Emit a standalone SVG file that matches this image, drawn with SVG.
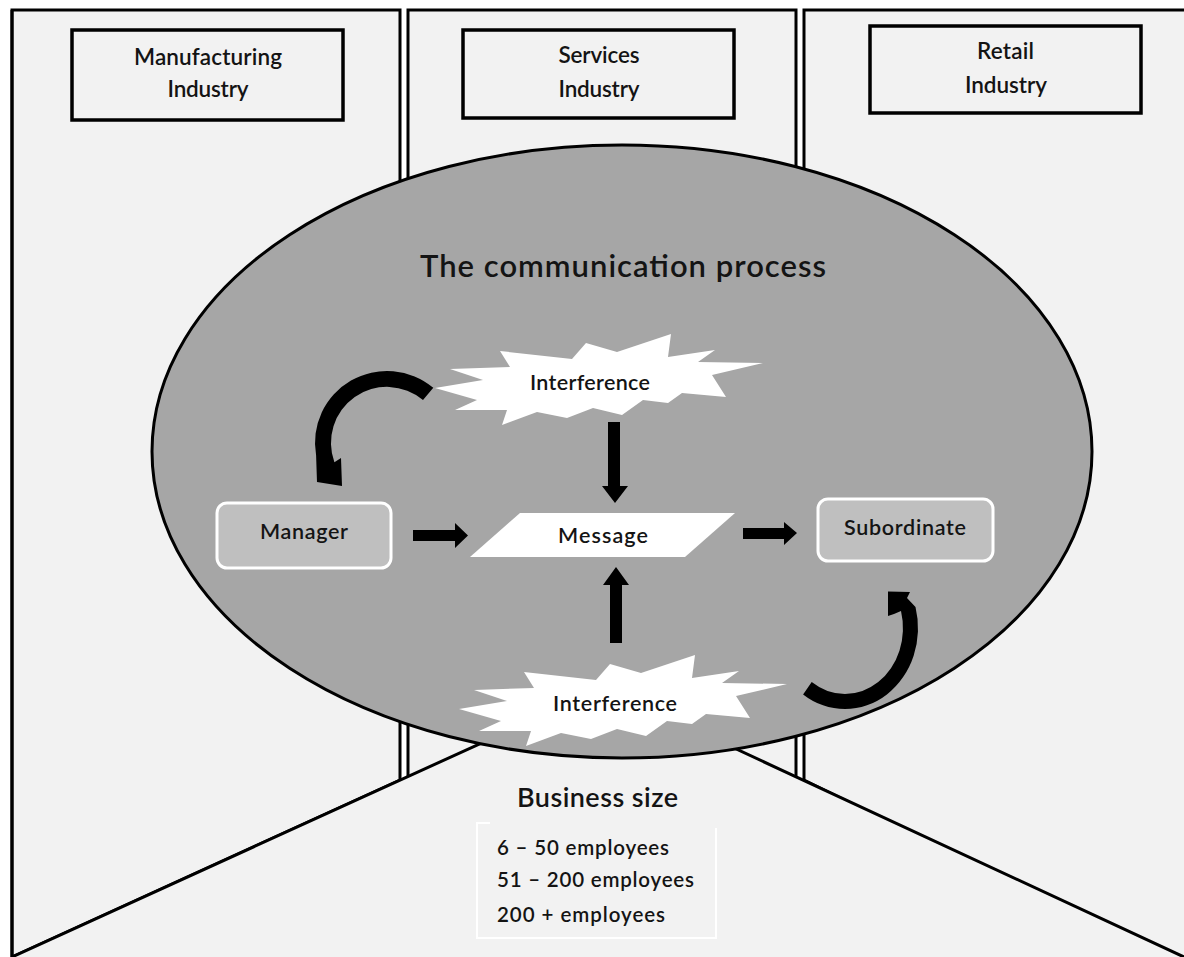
<svg xmlns="http://www.w3.org/2000/svg" width="1184" height="957" viewBox="0 0 1184 957">
<defs>
<style>
.panel{fill:#f2f2f2;stroke:#000;stroke-width:3;stroke-linejoin:miter}
.ibox{fill:#f2f2f2;stroke:#000;stroke-width:3.5}
.edge{fill:none;stroke:#000;stroke-width:3}
.t{font-family:Lato,"Liberation Sans",sans-serif;fill:#141414;text-anchor:middle;font-weight:600}
.ind{font-size:22.5px}
.lbl{font-size:21.5px}
.node{fill:#bfbfbf;stroke:#fff;stroke-width:3}
.burst{fill:#fff;stroke:none}
.arr{fill:#000;stroke:none}
</style>
<polygon id="burstShape" class="burst" points="435,388 483,380 450,369 510,367 500,351 572,359 586,343 617,352 671,334 668,357 715,350 698,362 763,363 712,375 726,397 682,393 668,403 643,400 622,415 593,408 567,418 537,412 502,425 507,410 455,410 477,400"/>
</defs>
<rect x="0" y="0" width="1184" height="957" fill="#fff"/>
<g id="panels">
<polygon id="panel-left" class="panel" points="12,10 400,10 400,780 12,957 12,970"/>
<rect id="panel-middle" class="panel" x="408" y="10" width="388" height="790"/>
<polygon id="panel-right" class="panel" points="804,10 1190,10 1190,970 804,780"/>
<polygon id="floor" fill="#f2f2f2" points="12,957 543,715 663,715 1184,957 1184,970 12,970"/>
<path class="edge" d="M12,957 L543,715 M663,715 L1184,957"/>
<path class="edge" d="M12,10 L12,970"/>
</g>
<g id="manufacturing">
<rect class="ibox" x="72" y="30" width="271" height="90"/>
<text class="t ind" x="208" y="65" textLength="148">Manufacturing</text>
<text class="t ind" x="208" y="97" textLength="81">Industry</text>
</g>
<g id="services">
<rect class="ibox" x="463" y="30" width="271" height="88"/>
<text class="t ind" x="599" y="63" textLength="81">Services</text>
<text class="t ind" x="599" y="97" textLength="81">Industry</text>
</g>
<g id="retail">
<rect class="ibox" x="870" y="26" width="271" height="87"/>
<text class="t ind" x="1005.5" y="59" textLength="57">Retail</text>
<text class="t ind" x="1006" y="93" textLength="82">Industry</text>
</g>
<g id="business-size">
<text class="t" x="597.5" y="807" font-size="27" font-weight="700" textLength="161">Business size</text>
<path d="M490,823 L477,823 L477,938 L716,938 L716,828" fill="none" stroke="#fff" stroke-width="2"/>
<text class="t" x="497" y="855" font-size="20.5" style="text-anchor:start" textLength="172">6 – 50 employees</text>
<text class="t" x="497" y="887" font-size="20.5" style="text-anchor:start" textLength="197">51 – 200 employees</text>
<text class="t" x="497" y="922" font-size="20.5" style="text-anchor:start" textLength="168">200 + employees</text>
</g>
<g id="communication-process">
<ellipse cx="622" cy="451.5" rx="470" ry="306.5" fill="#a6a6a6" stroke="#000" stroke-width="3"/>
<text class="t" x="623" y="277" font-size="31" font-weight="700" textLength="406">The communication process</text>
</g>
<g id="interference-top">
<use href="#burstShape"/>
<text class="t lbl" x="590" y="390" textLength="120">Interference</text>
</g>
<g id="interference-bottom">
<use href="#burstShape" transform="translate(24,321)"/>
<text class="t lbl" x="615" y="711" textLength="124">Interference</text>
</g>
<g id="manager">
<rect class="node" x="217" y="503" width="174" height="65" rx="10"/>
<text class="t lbl" x="304" y="539" textLength="88">Manager</text>
</g>
<g id="message">
<polygon points="470,557 520,513 735,513 685,557" fill="#fff"/>
<text class="t lbl" x="603" y="543" textLength="90">Message</text>
</g>
<g id="subordinate">
<rect class="node" x="818" y="499" width="175" height="62" rx="10"/>
<text class="t lbl" x="905" y="535" textLength="122">Subordinate</text>
</g>
<g id="connectors">
<polygon class="arr" points="413,530 455,530 455,523 468,535.5 455,548 455,541 413,541"/>
<polygon class="arr" points="743,528 784,528 784,522 797,533 784,545 784,539 743,539"/>
<polygon class="arr" points="608,422 620,422 620,486 628,486 615,503 602,486 608,486"/>
<polygon class="arr" points="610,643 622,643 622,585 629,585 616,567 603,585 610,585"/>
<path class="arr" d="M433.3,387.8 A72,72 0 0 0 316.1,455.5 L317,482 L342,486 L341,458 L334.4,462.2 A56,56 0 0 1 423,400 Z"/>
<path class="arr" d="M803.1,694.4 A73,81 0 0 0 915.5,607 L907,598 L910,592 L888,591.5 L888,616 L894,614 L901,611 A58,66 0 0 1 811.7,682.1 Z"/>
</g>
</svg>
